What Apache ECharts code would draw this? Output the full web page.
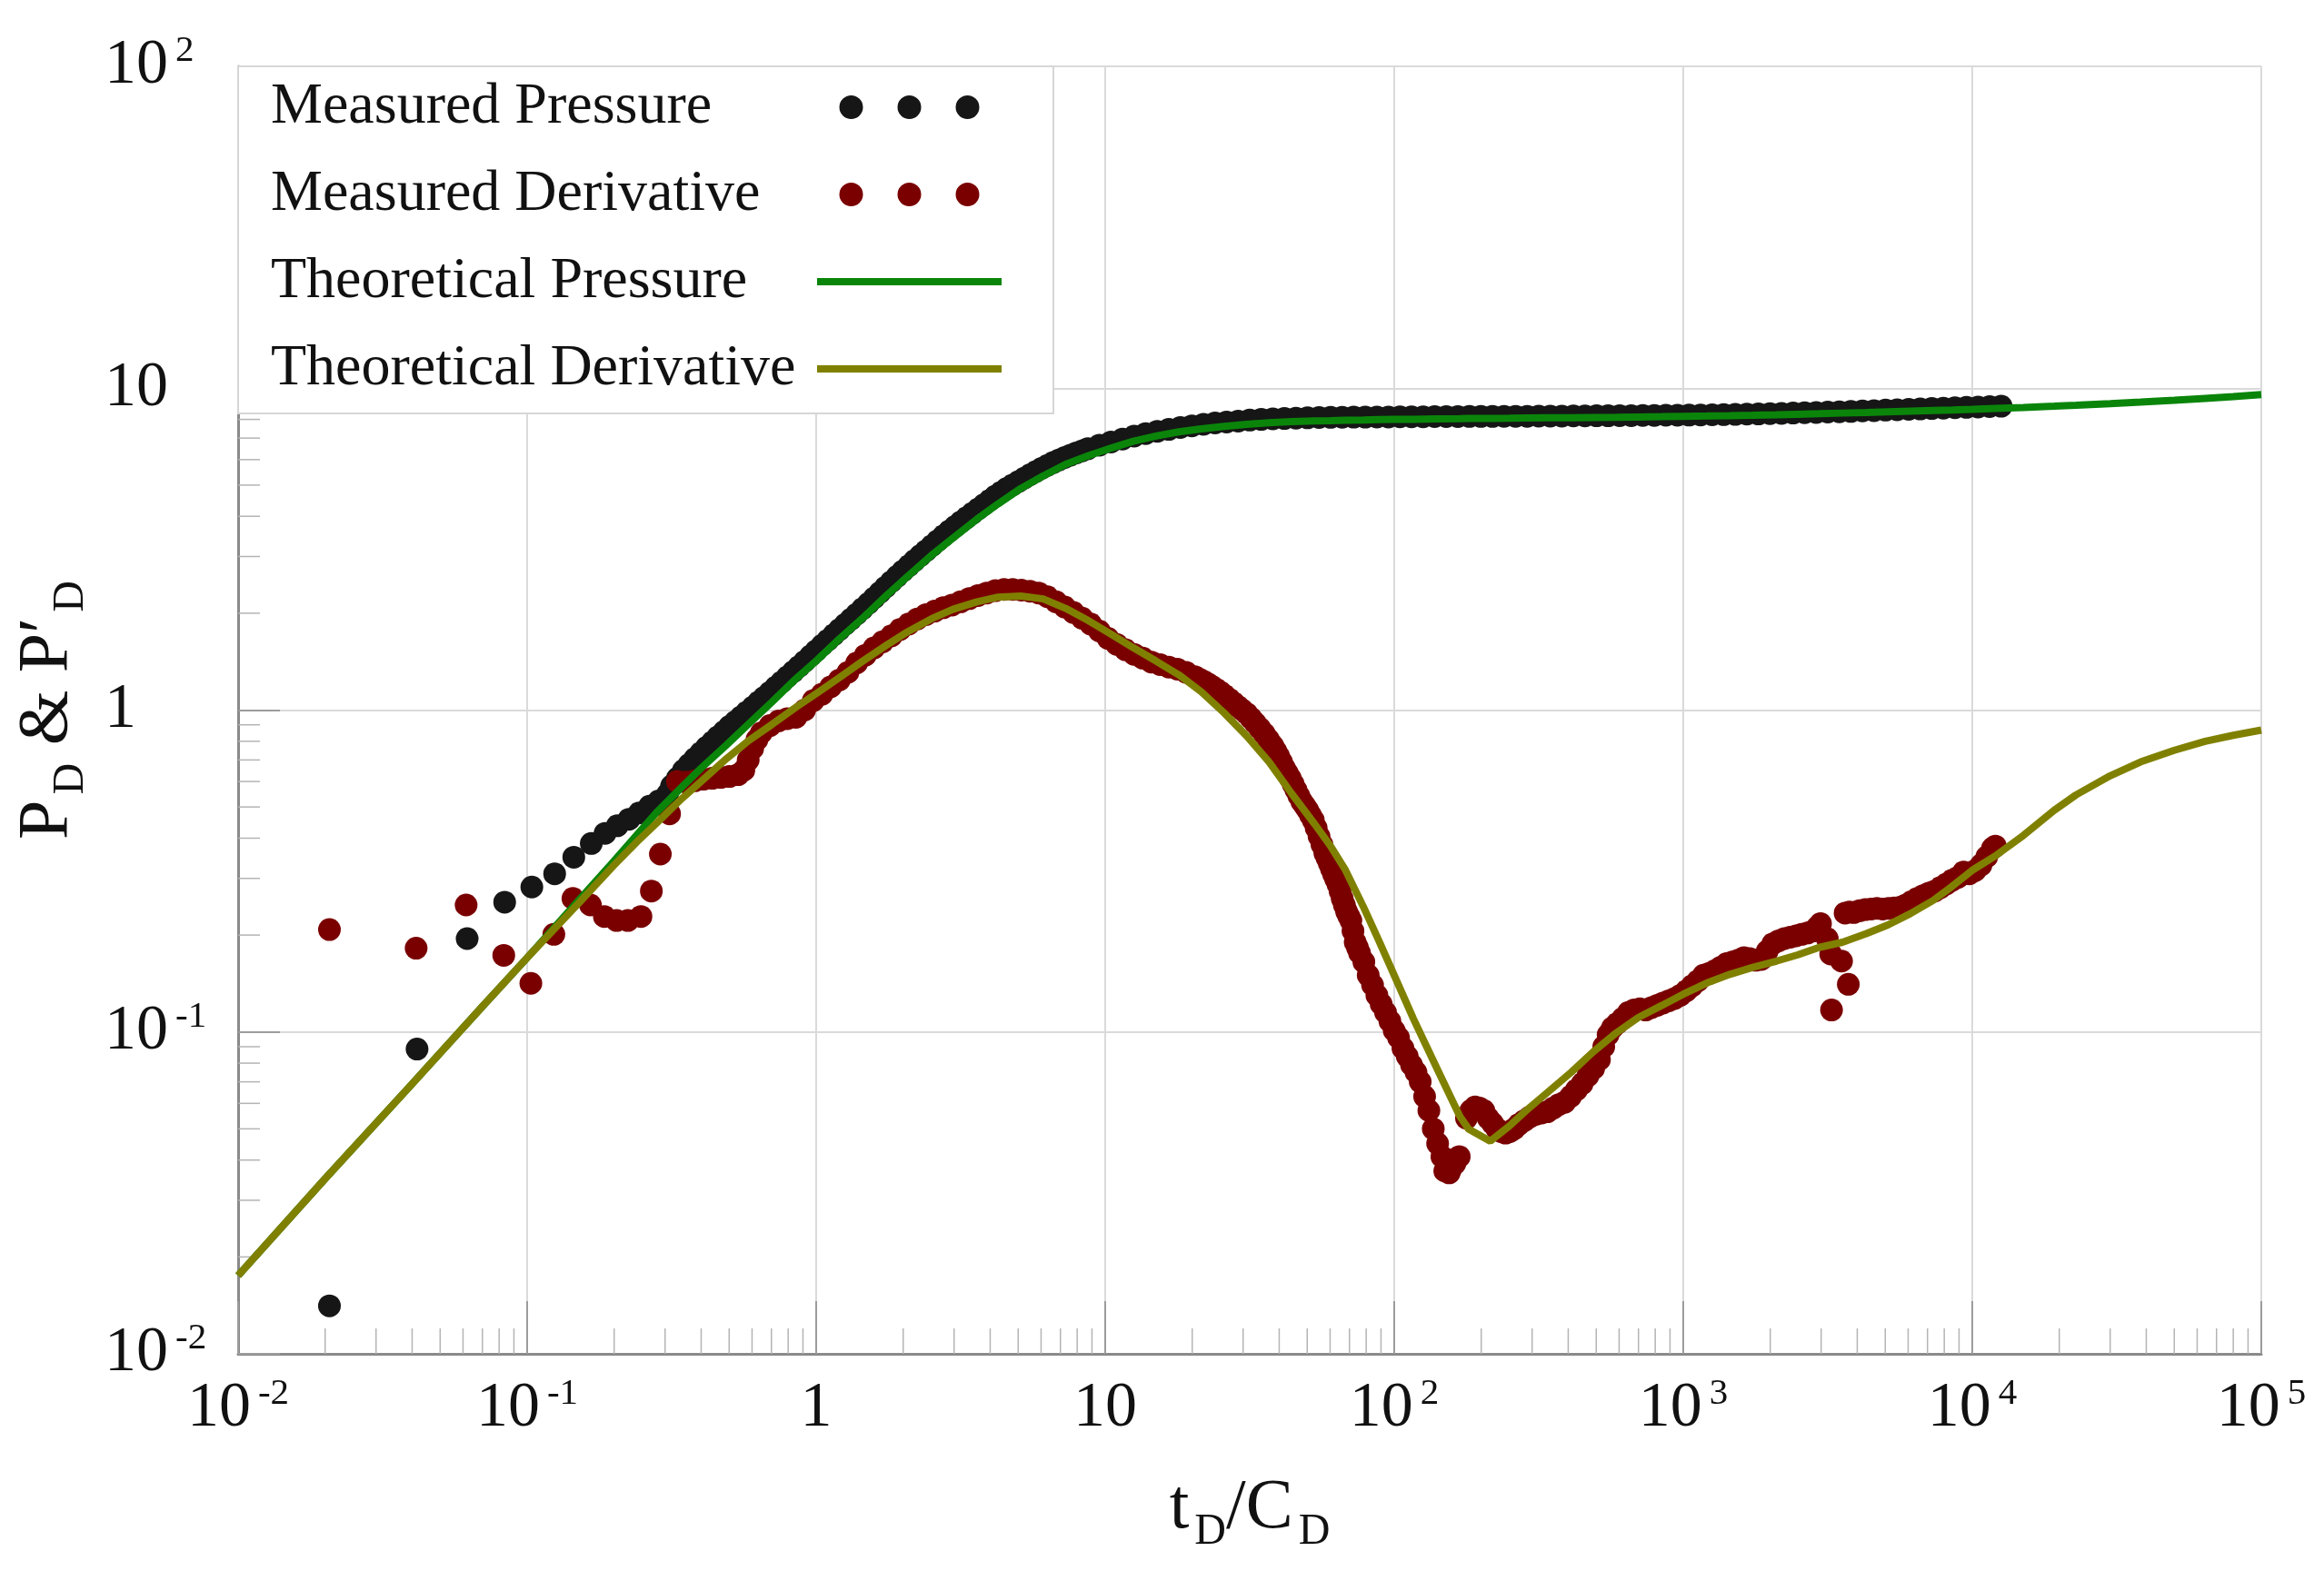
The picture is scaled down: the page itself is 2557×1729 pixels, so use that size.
<!DOCTYPE html>
<html>
<head>
<meta charset="utf-8">
<script src="https://cdn.jsdelivr.net/npm/echarts@6/dist/echarts.min.js"></script>
<style>
html,body{margin:0;padding:0;background:#fff;}
#chart{width:2557px;height:1729px;}
</style>
</head>
<body>
<div id="chart"></div>
<script>
// ---------------- DATA ----------------
const seriesNames = ['Measured Pressure', 'Measured Derivative', 'Theoretical Pressure', 'Theoretical Derivative'];

// Measured pressure: time (tD/CD) and PD
const measuredPressureTime = [0.0207,0.0416,0.062,0.0836,0.1038,0.1245,0.145,0.1667,0.186,0.205,0.225,0.244,0.265,0.285,0.306,
  0.316,0.347,0.380,0.417,0.457,0.501,0.550,0.603,0.661,0.724,0.794,0.871,0.955,1.047,1.148,1.259,1.380,1.514,1.660,1.820,1.995,2.188,2.399,2.630,2.884,3.162,3.467,3.802,4.169,4.571,5.012,5.495,6.026,6.607,7.244,7.943,8.710,9.550,10.47,11.48,12.59,13.80,15.14,16.60,18.20,19.95,21.88,23.99,26.30,28.84,31.62,34.67,38.02,41.69,45.71,50.12,54.95,60.26,66.07,
  72.4,79.4,87.1,95.5,104.7,114.8,125.9,138,151.4,166,182,199.5,218.8,239.9,263,288.4,316.2,346.7,380.2,416.9,457.1,501.2,549.5,602.6,660.7,724.4,794.3,871,955,1047,1148,1259,1380,1514,1660,1820,1995,2188,2399,2630,2884,3162,3467,3802,4169,4571,5012,5495,6026,6607,7244,7943,8710,9550,10470,11480,12590,
  0.331,0.363,0.398,0.437,0.479,0.525,0.575,0.631,0.692,0.759,0.832,0.912,1.0,1.096,1.202,1.318,1.445,1.585,1.738,1.905,2.089,2.291,2.512,2.754,3.020,3.311,3.631,3.981,4.365,4.786,5.248,5.754,6.310,6.918,7.586,8.318];
const measuredPressureValue = [0.0141,0.0885,0.195,0.253,0.282,0.310,0.349,0.385,0.414,0.437,0.458,0.479,0.503,0.522,0.548,
  0.581,0.649,0.706,0.766,0.826,0.889,0.953,1.021,1.096,1.178,1.268,1.365,1.472,1.589,1.711,1.845,1.986,2.143,2.317,2.506,2.704,2.911,3.126,3.357,3.597,3.837,4.083,4.345,4.624,4.887,5.129,5.383,5.636,5.875,6.095,6.295,6.486,6.653,6.808,6.950,7.096,7.228,7.345,7.447,7.551,7.638,7.727,7.798,7.852,7.907,7.962,7.998,8.035,8.054,8.072,8.091,8.110,8.12,8.128,
  8.13,8.13,8.14,8.14,8.15,8.15,8.15,8.16,8.16,8.16,8.17,8.17,8.17,8.18,8.18,8.18,8.19,8.19,8.19,8.20,8.20,8.21,8.21,8.22,8.22,8.23,8.23,8.24,8.24,8.25,8.26,8.27,8.28,8.29,8.31,8.32,8.34,8.35,8.37,8.39,8.41,8.43,8.45,8.47,8.50,8.52,8.55,8.57,8.60,8.62,8.65,8.67,8.70,8.72,8.74,8.77,8.79,
  0.614,0.677,0.735,0.795,0.857,0.920,0.986,1.058,1.136,1.222,1.315,1.417,1.529,1.648,1.777,1.914,2.063,2.228,2.410,2.603,2.805,3.018,3.240,3.475,3.715,3.958,4.212,4.482,4.753,5.006,5.254,5.508,5.754,5.984,6.194,6.390];

// Measured derivative: time and PD'
const measuredDerivativeTime = [0.0207,0.0413,0.0615,0.083,0.103,0.1237,0.144,0.1656,0.185,0.204,0.223,0.2476,0.269,0.289,0.311,
  0.331,0.355,0.380,0.407,0.437,0.468,0.501,0.537,0.562,0.582,0.603,0.624,0.646,0.692,0.741,0.794,0.851,0.912,0.977,1.047,1.122,1.202,1.288,1.380,1.479,1.585,1.698,1.820,1.950,2.089,2.239,2.399,2.570,2.754,2.951,3.162,3.388,3.631,3.890,4.169,4.467,4.786,5.129,5.495,5.888,6.310,6.761,7.244,7.762,8.318,8.913,9.550,10.23,10.96,11.75,12.59,13.49,14.45,15.49,16.60,17.78,19.05,20.42,21.88,23.44,25.12,26.92,28.84,30.90,33.11,35.48,38.02,39.81,41.69,43.65,45.71,47.86,50.12,52.48,54.95,57.54,59.57,61.66,63.83,66.07,68.39,70.79,73.28,75.86,78.52,81.28,84.14,87.10,90.16,93.33,96.61,100.0,103.5,107.2,110.9,114.8,118.9,123.0,127.4,131.8,136.5,141.3,146.2,151.4,156.7,162.2,167.9,149.6,158.5,154.9,
  177.8,184.1,190.5,197.2,204.2,211.3,218.8,226.5,234.4,242.7,251.2,260.0,269.2,281.8,295.1,309.0,323.6,338.8,354.8,371.5,389.0,407.4,426.6,446.7,467.7,489.8,512.9,530.9,549.5,568.9,588.8,616.6,645.7,676.1,707.9,741.3,776.2,812.8,851.1,891.3,933.3,977.2,1023,1072,1122,1175,1230,1288,1349,1413,1479,1549,1622,1698,1778,1862,1950,2042,2138,2239,2344,2455,2570,2692,2818,2917,2985,3631,3758,3890,4074,4266,4467,4677,4898,5129,5370,5623,5888,6166,6457,6761,7079,7413,7762,8128,8511,8913,9333,9772,10230,10720,11220,11750,12020,
  3150,3238,3259,3530,3725,
  21.13,22.65,24.27,26.0,27.86,29.85,31.99,34.28,36.73,38.9,40.74,42.66,44.67,46.77,48.98,51.29,53.70,56.23,58.55,60.6,62.7,64.94,67.22,69.6,72.0,74.6];
const measuredDerivativeValue = [0.208,0.182,0.248,0.173,0.1416,0.201,0.260,0.248,0.2284,0.222,0.222,0.2284,0.274,0.357,0.476,
  0.600,0.597,0.603,0.610,0.614,0.618,0.622,0.630,0.650,0.70,0.76,0.81,0.85,0.895,0.925,0.94,0.95,1.00,1.07,1.12,1.18,1.24,1.31,1.40,1.48,1.56,1.63,1.70,1.78,1.85,1.92,1.98,2.03,2.08,2.12,2.17,2.22,2.27,2.31,2.35,2.37,2.37,2.36,2.34,2.31,2.25,2.17,2.09,2.01,1.93,1.85,1.76,1.67,1.60,1.54,1.49,1.45,1.41,1.385,1.36,1.34,1.31,1.27,1.23,1.185,1.135,1.08,1.025,0.975,0.91,0.845,0.775,0.72,0.66,0.615,0.565,0.52,0.49,0.455,0.405,0.36,0.335,0.31,0.288,0.26,0.237,0.222,0.19,0.176,0.165,0.15,0.14,0.13,0.122,0.115,0.108,0.101,0.096,0.089,0.084,0.079,0.075,0.07,0.063,0.057,0.050,0.045,0.041,0.039,0.0375,0.039,0.041,0.037,0.040,0.0365,
  0.054,0.057,0.0585,0.058,0.057,0.054,0.052,0.050,0.049,0.0485,0.049,0.050,0.0515,0.053,0.0545,0.0555,0.056,0.0565,0.058,0.0595,0.0605,0.063,0.066,0.069,0.073,0.077,0.082,0.09,0.098,0.103,0.106,0.110,0.115,0.117,0.118,0.117,0.119,0.121,0.123,0.125,0.127,0.13,0.134,0.139,0.144,0.15,0.152,0.155,0.159,0.163,0.165,0.167,0.170,0.169,0.167,0.168,0.178,0.188,0.192,0.195,0.197,0.199,0.201,0.203,0.206,0.212,0.217,0.234,0.236,0.235,0.238,0.240,0.241,0.242,0.241,0.242,0.243,0.244,0.248,0.254,0.260,0.265,0.270,0.274,0.281,0.288,0.296,0.302,0.314,0.31,0.317,0.33,0.35,0.372,0.378,
  0.195,0.1746,0.117,0.166,0.1406,
  1.25,1.208,1.16,1.108,1.052,1.0,0.942,0.877,0.809,0.747,0.69,0.637,0.59,0.542,0.505,0.472,0.43,0.382,0.347,0.322,0.299,0.274,0.248,0.229,0.206,0.183];

// Theoretical model curves
const theoreticalTime = [0.01,0.02,0.04,0.07,0.1,0.15,0.2,0.24,0.28,0.342,0.40,0.49,0.58,0.703,0.85,1.007,1.2,1.445,1.75,2.07,2.5,2.97,3.6,4.26,5.1,6.1,7.3,8.75,10.5,12.5,15,18,21.5,25.8,30.9,36.9,44.2,53,60,67.6,78.2,88.3,100,116.5,140,168.6,180.6,215,250,286,340,410,490,587,700,842,1000,1208,1450,1730,2100,2483,2950,3557,4300,5105,6100,7311,8500,10000,12000,15030,19190,22850,30000,38220,50000,63970,80000,100000];
const theoreticalPressure = [0.0175,0.035,0.069,0.12,0.17,0.255,0.34,0.41,0.48,0.575,0.66,0.78,0.90,1.06,1.25,1.43,1.66,1.927,2.27,2.60,3.02,3.42,3.92,4.37,4.88,5.34,5.80,6.17,6.52,6.84,7.10,7.32,7.48,7.61,7.72,7.81,7.87,7.91,7.93,7.95,7.97,7.99,8.0,8.01,8.03,8.04,8.05,8.06,8.07,8.08,8.09,8.10,8.11,8.12,8.14,8.16,8.18,8.20,8.22,8.24,8.27,8.30,8.33,8.37,8.41,8.45,8.49,8.53,8.56,8.60,8.65,8.71,8.79,8.85,8.95,9.05,9.17,9.30,9.42,9.55];
const theoreticalDerivative = [0.0175,0.035,0.069,0.12,0.17,0.25,0.33,0.39,0.445,0.53,0.60,0.707,0.80,0.902,1.02,1.13,1.26,1.417,1.59,1.749,1.92,2.056,2.17,2.244,2.26,2.215,2.07,1.896,1.72,1.563,1.42,1.286,1.14,0.98,0.83,0.69,0.55,0.443,0.38,0.32,0.245,0.193,0.15,0.11,0.0776,0.0547,0.05,0.0458,0.051,0.057,0.065,0.075,0.087,0.0994,0.111,0.1208,0.131,0.142,0.151,0.1585,0.166,0.1735,0.183,0.19,0.202,0.215,0.233,0.256,0.283,0.318,0.352,0.408,0.488,0.545,0.625,0.69,0.75,0.80,0.835,0.867];

// Tick labels (decade exponents)
const tickExponents = [-2, -1, 0, 1, 2, 3, 4, 5];
const tickLabelTexts = ['{b|10}{s|-2}', '{b|10}{s|-1}', '{b|1}', '{b|10}', '{b|10}{s|2}', '{b|10}{s|3}', '{b|10}{s|4}', '{b|10}{s|5}'];

// ---------------- CHART ----------------
const FONT = '"Liberation Serif","Times New Roman",serif';
const zip = (a, b) => a.slice(0, Math.min(a.length, b.length)).map((v, i) => [v, b[i]]);

function tickFormatter(v) {
  const e = Math.round(Math.log10(v));
  const i = tickExponents.indexOf(e);
  return i >= 0 ? tickLabelTexts[i] : '';
}
const tickRich = {
  b: { fontFamily: FONT, fontSize: 70, color: '#111', lineHeight: 74 },
  s: { fontFamily: FONT, fontSize: 41, color: '#111', lineHeight: 40, verticalAlign: 'top', padding: [0, 0, 0, 8] }
};
const nameRich = {
  m: { fontFamily: FONT, fontSize: 78, color: '#111', lineHeight: 98 },
  s: { fontFamily: FONT, fontSize: 48, color: '#111', lineHeight: 48, verticalAlign: 'bottom', padding: [0, 0, 0, 6] }
};

const X_MIN = 0.01, X_MAX = 100000, Y_MIN = 0.01, Y_MAX = 100;
const xMinor = [], yMinor = [];
for (let e = -2; e < 5; e++) for (let k = 2; k < 10; k++) xMinor.push(k * Math.pow(10, e));
for (let e = -2; e < 2; e++) for (let k = 2; k < 10; k++) yMinor.push(k * Math.pow(10, e));

const dotsIcon = 'path://M0,13a13,13 0 1,0 26,0a13,13 0 1,0 -26,0Z M64,13a13,13 0 1,0 26,0a13,13 0 1,0 -26,0Z M128,13a13,13 0 1,0 26,0a13,13 0 1,0 -26,0Z';
const lineIcon = 'path://M0,0H203V8H0Z';

const COLORS = { mp: '#161616', md: '#7a0000', tp: '#0a850a', td: '#808000' };

const chart = echarts.init(document.getElementById('chart'), null, { renderer: 'canvas' });
const option = {
  animation: false,
  backgroundColor: '#ffffff',
  grid: { left: 262, right: 69, top: 73, bottom: 239, containLabel: false, outerBoundsMode: 'none' },
  legend: {
    orient: 'vertical', left: 262, top: 73, align: 'right',
    itemWidth: 203, itemHeight: 26, itemGap: 32,
    padding: [13, 57, 17, 36],
    backgroundColor: '#ffffff', borderColor: '#d6d6d6', borderWidth: 2,
    selectedMode: false,
    itemStyle: { borderWidth: 0 },
    formatter: name => '{n|' + name + '}',
    textStyle: { fontFamily: FONT, fontSize: 64, color: '#111',
      rich: { n: { fontFamily: FONT, fontSize: 64, color: '#111', width: 596, align: 'left', lineHeight: 64 } } },
    data: [
      { name: seriesNames[0], icon: dotsIcon },
      { name: seriesNames[1], icon: dotsIcon },
      { name: seriesNames[2], icon: lineIcon },
      { name: seriesNames[3], icon: lineIcon }
    ]
  },
  xAxis: {
    type: 'log', logBase: 10, min: X_MIN, max: X_MAX, splitNumber: 7,
    axisLine: { show: true, lineStyle: { color: '#8a8a8a', width: 3 } },
    axisTick: { show: true, inside: true, length: 58, lineStyle: { color: '#9c9c9c', width: 2 } },
    splitLine: { show: true, lineStyle: { color: '#dadada', width: 2 } },
    axisLabel: { margin: 24, formatter: tickFormatter, rich: tickRich, showMinLabel: true, showMaxLabel: true, hideOverlap: false },
    name: '{m|t}{s|D}{m|/C}{s|D}', nameLocation: 'middle', nameGap: 122,
    nameTextStyle: { rich: nameRich }
  },
  yAxis: {
    type: 'log', logBase: 10, min: Y_MIN, max: Y_MAX, splitNumber: 4,
    axisLine: { show: true, lineStyle: { color: '#8a8a8a', width: 3 } },
    axisTick: { show: true, inside: true, length: 46, lineStyle: { color: '#9c9c9c', width: 2 } },
    splitLine: { show: true, lineStyle: { color: '#dadada', width: 2 } },
    axisLabel: { margin: 147, align: 'left', formatter: tickFormatter, rich: tickRich, showMinLabel: true, showMaxLabel: true, hideOverlap: false },
    name: '{m|P}{s|D}{m| & P′}{s|D}', nameLocation: 'middle', nameGap: 160, nameRotate: 90,
    nameTextStyle: { rich: nameRich }
  },
  series: [
    {
      type: 'custom', name: 'xMinorTicks', silent: true, z: 1, clip: false,
      data: xMinor.map(v => [v, Y_MIN]),
      renderItem: (params, api) => {
        const p = api.coord([api.value(0), api.value(1)]);
        return { type: 'line', shape: { x1: p[0], y1: p[1], x2: p[0], y2: p[1] - 28 }, style: { stroke: '#b4b4b4', lineWidth: 1.5 } };
      }
    },
    {
      type: 'custom', name: 'yMinorTicks', silent: true, z: 1, clip: false,
      data: yMinor.map(v => [X_MIN, v]),
      renderItem: (params, api) => {
        const p = api.coord([api.value(0), api.value(1)]);
        return { type: 'line', shape: { x1: p[0], y1: p[1], x2: p[0] + 24, y2: p[1] }, style: { stroke: '#b4b4b4', lineWidth: 1.5 } };
      }
    },
    {
      type: 'scatter', name: seriesNames[0], z: 2,
      data: zip(measuredPressureTime, measuredPressureValue),
      symbol: 'circle', symbolSize: 25,
      itemStyle: { color: COLORS.mp, borderWidth: 0, opacity: 1 }
    },
    {
      type: 'scatter', name: seriesNames[1], z: 3,
      data: zip(measuredDerivativeTime, measuredDerivativeValue),
      symbol: 'circle', symbolSize: 25,
      itemStyle: { color: COLORS.md, borderWidth: 0, opacity: 1 }
    },
    {
      type: 'line', name: seriesNames[2], z: 4,
      data: zip(theoreticalTime, theoreticalPressure),
      showSymbol: false, symbol: 'none', smooth: false,
      itemStyle: { color: COLORS.tp },
      lineStyle: { color: COLORS.tp, width: 8 }
    },
    {
      type: 'line', name: seriesNames[3], z: 5,
      data: zip(theoreticalTime, theoreticalDerivative),
      showSymbol: false, symbol: 'none', smooth: false,
      itemStyle: { color: COLORS.td },
      lineStyle: { color: COLORS.td, width: 8 }
    }
  ]
};
chart.setOption(option);
</script>
</body>
</html>
